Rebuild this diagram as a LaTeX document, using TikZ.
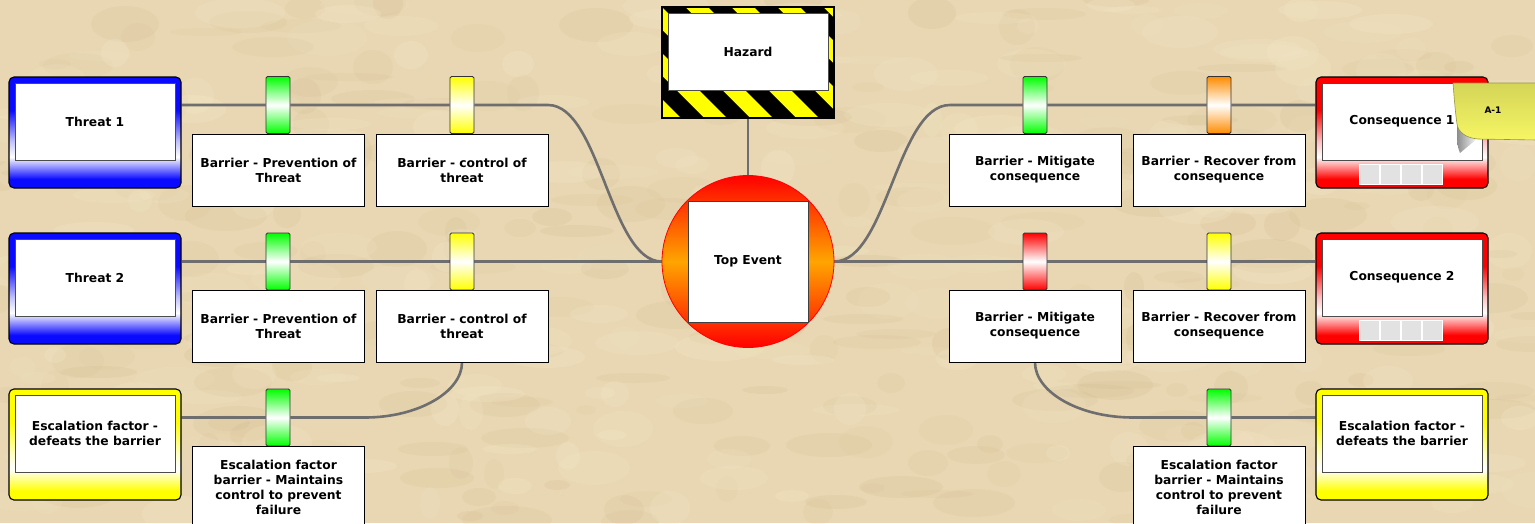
\documentclass[tikz,border=0pt]{standalone}
\usepackage{fontspec}
\setmainfont{DejaVu Sans}
\usetikzlibrary{calc}
\definecolor{cblue}{RGB}{10,10,255}
\definecolor{cred}{RGB}{255,0,0}
\definecolor{cyel}{RGB}{255,255,0}
\definecolor{cgreen}{RGB}{0,255,0}
\definecolor{corange}{RGB}{255,140,0}
\definecolor{torange}{RGB}{255,165,0}
\definecolor{parch}{RGB}{232,215,178}
\definecolor{parchdark}{RGB}{205,180,135}
\definecolor{parchlight}{RGB}{246,234,205}
\definecolor{lgrey}{RGB}{110,110,110}
\definecolor{notetop}{RGB}{212,212,88}
\definecolor{notebot}{RGB}{246,246,100}
\definecolor{noteedge}{RGB}{150,150,60}
\definecolor{sqgrey}{RGB}{226,226,226}
\newcommand\MakeBoxShade[2]{\pgfdeclareverticalshading{#1}{100bp}{color(0bp)=(#2); color(25bp)=(#2); color(29bp)=(#2); color(39bp)=(white); color(46bp)=(white!75!#2); color(60bp)=(#2); color(75bp)=(#2); color(100bp)=(#2)}}
\MakeBoxShade{blueshade}{cblue}
\MakeBoxShade{redshade}{cred}
\MakeBoxShade{yellowshade}{cyel}
\pgfdeclarelayer{back}
\pgfdeclarelayer{lines}
\pgfsetlayers{back,lines,main}
\tikzset{
 conn/.style={draw=lgrey, line width=2.6pt},
 txt/.style={font=\fontsize{12.3}{15}\selectfont\bfseries, text=black, align=center},
 outerbox/.style={rounded corners=5pt, draw=black, line width=1.1pt, minimum width=172pt, minimum height=111pt, inner sep=0pt, shade, shading=#1},
 innerbox/.style={txt, fill=white, draw=black!70, line width=1pt, minimum width=160pt, minimum height=77pt, inner sep=0pt},
 barbox/.style={txt, fill=white, draw=black, line width=0.9pt, minimum width=172pt, minimum height=72pt, inner sep=0pt},
 ind/.style={draw=black!80, line width=0.8pt, rounded corners=1.5pt, minimum width=24pt, minimum height=57pt, inner sep=0pt, top color=#1, bottom color=#1, middle color=white},
 sqbox/.style={fill=sqgrey, draw=white, line width=0.8pt, minimum width=20pt, minimum height=20pt, inner sep=0pt},
}
\begin{document}
\begin{tikzpicture}[x=1pt,y=-1pt]
\useasboundingbox (0,0) rectangle (1535,523);
\begin{pgfonlayer}{back}
\begin{scope}
\clip (0,0) rectangle (1535,523);
\fill[parch] (0,0) rectangle (1535,523);
\pgfmathsetseed{12}
\foreach \k in {1,...,260}{
  \pgfmathsetmacro\xa{random(0,1535)}
  \pgfmathsetmacro\ya{random(0,523)}
  \pgfmathsetmacro\ra{random(10,45)}
  \pgfmathsetmacro\rb{random(4,18)}
  \pgfmathsetmacro\op{0.06+0.10*rnd}
  \fill[parchdark, opacity=\op] (\xa,\ya) ellipse [x radius=\ra, y radius=\rb];
}
\foreach \k in {1,...,260}{
  \pgfmathsetmacro\xa{random(0,1535)}
  \pgfmathsetmacro\ya{random(0,523)}
  \pgfmathsetmacro\ra{random(10,45)}
  \pgfmathsetmacro\rb{random(4,18)}
  \pgfmathsetmacro\op{0.10+0.15*rnd}
  \fill[parchlight, opacity=\op] (\xa,\ya) ellipse [x radius=\ra, y radius=\rb];
}
\end{scope}
\end{pgfonlayer}

% ---- left column boxes
\node[outerbox=blueshade] (t1) at (95,132.5) {};
\node[innerbox] (t1i) at (95,121.5) {Threat 1};
\node[outerbox=blueshade] (t2) at (95,288.5) {};
\node[innerbox] (t2i) at (95,277.5) {Threat 2};
\node[outerbox=yellowshade] (e1) at (95,444.5) {};
\node[innerbox] (e1i) at (95,433.5) {Escalation factor -\\defeats the barrier};

% ---- right column boxes
\node[outerbox=redshade] (k1) at (1402,132.5) {};
\node[innerbox] (k1i) at (1402,121.5) {Consequence 1};
\node[outerbox=redshade] (k2) at (1402,288.5) {};
\node[innerbox] (k2i) at (1402,277.5) {Consequence 2};
\node[outerbox=yellowshade] (e2) at (1402,444.5) {};
\node[innerbox] (e2i) at (1402,433.5) {Escalation factor -\\defeats the barrier};
\foreach \n/\yy in {k1/174,k2/330}{
  \foreach \k/\xx in {a/1369,b/1390,c/1411,d/1432}{
    \node[sqbox] (\n\k) at (\xx,\yy) {};
  }
}

% ---- barrier indicators
\node[ind=cgreen] (i11) at (278,105) {};
\node[ind=cyel] (i12) at (462,105) {};
\node[ind=cgreen] (i21) at (278,261.5) {};
\node[ind=cyel] (i22) at (462,261.5) {};
\node[ind=cgreen] (i31) at (278,417.5) {};
\node[ind=cgreen] (r11) at (1035,105) {};
\node[ind=corange] (r12) at (1219,105) {};
\node[ind=cred] (r21) at (1035,261.5) {};
\node[ind=cyel] (r22) at (1219,261.5) {};
\node[ind=cgreen] (r31) at (1219,417.5) {};

% ---- barrier boxes
\node[barbox] (b11) at (278.5,170) {Barrier - Prevention of\\Threat};
\node[barbox] (b12) at (462,170) {Barrier - control of\\threat};
\node[barbox] (b21) at (278.5,326) {Barrier - Prevention of\\Threat};
\node[barbox] (b22) at (462,326) {Barrier - control of\\threat};
\node[barbox, minimum height=83pt] (b31) at (278.5,487.5) {Escalation factor\\barrier - Maintains\\control to prevent\\failure};
\node[barbox] (c11) at (1035,170) {Barrier - Mitigate\\consequence};
\node[barbox] (c12) at (1219,170) {Barrier - Recover from\\consequence};
\node[barbox] (c21) at (1035,326) {Barrier - Mitigate\\consequence};
\node[barbox] (c22) at (1219,326) {Barrier - Recover from\\consequence};
\node[barbox, minimum height=83pt] (c31) at (1219,487.5) {Escalation factor\\barrier - Maintains\\control to prevent\\failure};

% ---- hazard
\begin{scope}
\clip (662,7) rectangle (834,118);
\fill[cyel] (662,7) rectangle (834,118);
\foreach \i in {-3,...,4} \fill[black] ({662+\i*46},7) -- ++(23,0) -- ++(111,111) -- ++(-23,0) -- cycle;
\end{scope}
\node[draw=black, line width=1.6pt, minimum width=172pt, minimum height=111pt, inner sep=0pt] (hz) at (748,62.5) {};
\node[innerbox] (hzi) at (748,51.5) {Hazard};

% ---- top event
\node[circle, draw=red, line width=0.8pt, minimum size=172pt, inner sep=0pt, top color=cred, bottom color=cred, middle color=torange] (te) at (748,261.5) {};
\node[txt, fill=white, draw=black!75, line width=1pt, minimum width=120pt, minimum height=121pt, inner sep=0pt] (tei) at (748,261.5) {Top Event};

% ---- note A-1
\shade[left color=black!45, right color=white] (1457,124) .. controls (1458,132) and (1466,137) .. (1478,138) -- (1460,153) .. controls (1457,145) .. cycle;
\shade[top color=notetop, bottom color=notebot, draw=noteedge, line width=0.6pt] (1453,83) -- (1537,83) -- (1537,140) -- (1478,139) .. controls (1466,138) and (1458,132) .. (1457,124) .. controls (1455,110) and (1454,95) .. cycle;
\node[font=\fontsize{9}{10}\selectfont\bfseries] (a1) at (1493,110) {A-1};

% ---- connectors
\coordinate (cl1) at (548,105);
\coordinate (cl3) at (365,417.5);
\coordinate (cr1) at (950,105);
\coordinate (cr3) at (1133,417.5);
\begin{pgfonlayer}{lines}
\draw[conn] (t1.east |- i11) -- (i11) -- (i12) -- (cl1) .. controls (600,105) and (610,261.5) .. (te.west);
\draw[conn] (t2.east |- i21) -- (i21) -- (i22) -- (te.west);
\draw[conn] (e1.east |- i31) -- (i31) -- (cl3) .. controls (418,417.5) and (462,392) .. (b22.south);
\draw[conn] (te.east) .. controls (887,261.5) and (897,105) .. (cr1) -- (r11) -- (r12) -- (k1.west |- r11);
\draw[conn] (te.east) -- (r21) -- (r22) -- (k2.west |- r21);
\draw[conn] (c21.south) .. controls (1035,392) and (1079,417.5) .. (cr3) -- (r31) -- (e2.west |- r31);
\draw[conn] (hz.south) -- (te.north);
\end{pgfonlayer}
\end{tikzpicture}
\end{document}
